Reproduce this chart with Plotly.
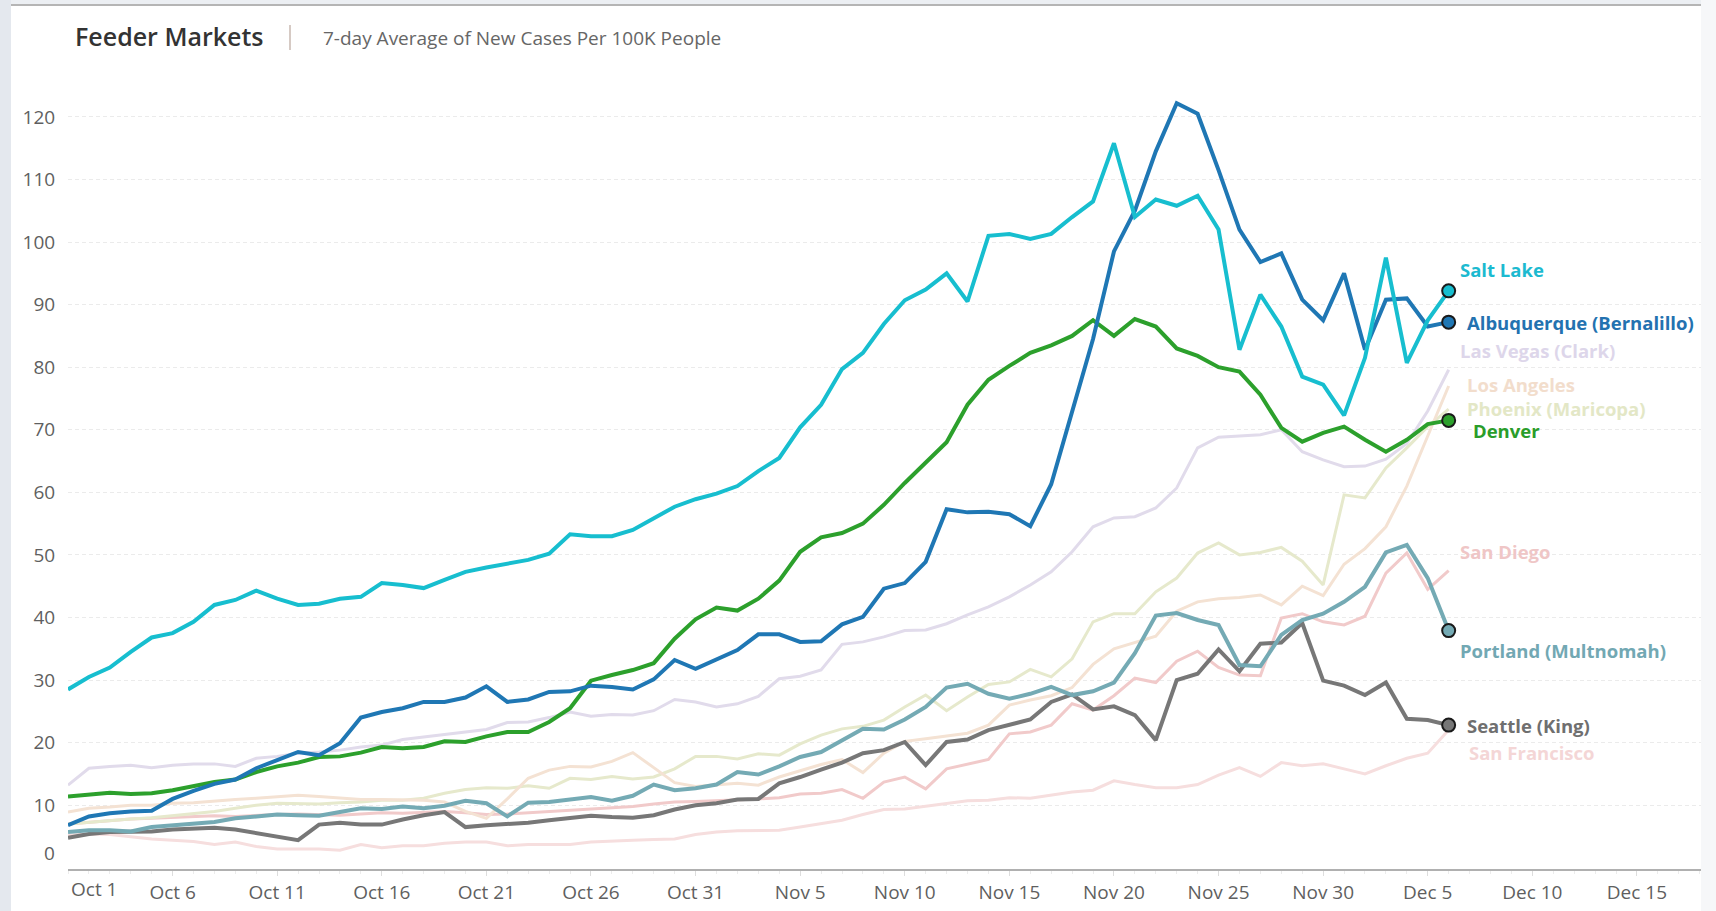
import pandas as pd
import plotly.graph_objects as go

# ---------------- data ----------------
dates = pd.date_range("2020-10-01", "2020-12-06", freq="D")

salt_lake = [28.5, 30.5, 32.0, 34.5, 36.8, 37.5, 39.3, 42.0, 42.8, 44.3,
             43.0, 42.0, 42.2, 43.0, 43.3, 45.5, 45.2, 44.7, 46.0, 47.3,
             48.0, 48.6, 49.2, 50.2, 53.3, 53.0, 53.0, 54.0, 55.8, 57.7,
             58.9, 59.8, 61.0, 63.4, 65.5, 70.4, 74.0, 79.7, 82.3, 86.9,
             90.7, 92.4, 95.0, 90.5, 101.0, 101.3, 100.5, 101.3, 104.0, 106.5,
             115.8, 104.0, 106.8, 105.8, 107.4, 102.0, 82.8, 91.6, 86.5, 78.5,
             77.2, 72.3, 81.5, 97.5, 80.7, 87.5, 92.2]

albuquerque = [6.8, 8.2, 8.7, 9.0, 9.1, 11.0, 12.3, 13.4, 14.1, 15.9,
               17.2, 18.5, 18.0, 19.9, 24.0, 24.9, 25.5, 26.5, 26.5, 27.2,
               29.0, 26.5, 26.9, 28.1, 28.2, 29.1, 28.9, 28.5, 30.1, 33.2,
               31.8, 33.3, 34.8, 37.3, 37.3, 36.1, 36.2, 38.9, 40.1, 44.6,
               45.5, 48.9, 57.3, 56.8, 56.9, 56.5, 54.6, 61.3, 73.0, 84.5,
               98.5, 105.0, 114.5, 122.2, 120.5, 111.5, 102.0, 96.8, 98.2, 90.8,
               87.5, 95.0, 82.8, 90.8, 91.0, 86.5, 87.2]

denver = [11.4, 11.7, 12.0, 11.8, 11.9, 12.4, 13.1, 13.7, 14.1, 15.3,
          16.2, 16.8, 17.7, 17.8, 18.4, 19.3, 19.1, 19.3, 20.2, 20.1,
          21.0, 21.7, 21.7, 23.3, 25.5, 29.9, 30.8, 31.6, 32.7, 36.6,
          39.7, 41.6, 41.1, 43.0, 45.9, 50.5, 52.8, 53.5, 55.0, 58.0,
          61.5, 64.8, 68.0, 74.0, 78.0, 80.2, 82.3, 83.5, 85.0, 87.5,
          85.0, 87.7, 86.5, 83.0, 81.8, 80.0, 79.3, 75.6, 70.3, 68.1,
          69.5, 70.5, 68.4, 66.5, 68.4, 70.9, 71.5]

las_vegas = [13.2, 15.9, 16.2, 16.4, 16.0, 16.4, 16.6, 16.6, 16.2, 17.5,
             17.8, 18.3, 18.5, 18.8, 19.3, 19.6, 20.5, 20.9, 21.3, 21.7,
             22.1, 23.2, 23.3, 24.0, 24.9, 24.2, 24.5, 24.4, 25.1, 26.9,
             26.5, 25.7, 26.2, 27.4, 30.2, 30.6, 31.6, 35.7, 36.1, 36.9,
             37.9, 38.0, 39.0, 40.4, 41.7, 43.3, 45.2, 47.3, 50.5, 54.5,
             55.9, 56.1, 57.5, 60.7, 67.1, 68.8, 69.0, 69.2, 70.0, 66.5,
             65.2, 64.1, 64.2, 65.3, 67.8, 73.0, 79.6]

los_angeles = [8.9, 9.5, 9.7, 10.0, 10.0, 10.3, 10.4, 10.7, 10.9, 11.1,
               11.3, 11.6, 11.4, 11.1, 10.9, 10.9, 10.9, 10.8, 10.5, 9.0,
               7.9, 11.0, 14.3, 15.6, 16.2, 16.1, 17.0, 18.4, 16.0, 13.6,
               13.0, 13.2, 13.5, 13.2, 14.5, 15.5, 16.5, 17.3, 15.2, 18.3,
               20.2, 20.6, 21.0, 21.5, 22.8, 26.0, 26.8, 27.5, 28.8, 32.5,
               35.0, 36.0, 37.0, 41.0, 42.5, 43.0, 43.2, 43.6, 42.0, 45.0,
               43.5, 48.5, 51.0, 54.5, 61.0, 69.0, 77.0]

phoenix = [7.0, 7.3, 7.5, 7.8, 8.0, 8.3, 8.6, 9.0, 9.5, 10.0,
           10.3, 10.3, 10.2, 10.4, 10.5, 10.8, 10.8, 11.1, 11.9, 12.5,
           12.8, 12.7, 13.1, 12.7, 14.3, 14.1, 14.6, 14.2, 14.5, 15.8,
           17.8, 17.8, 17.4, 18.2, 18.0, 19.8, 21.2, 22.2, 22.6, 23.6,
           25.7, 27.6, 25.1, 27.3, 29.3, 29.7, 31.7, 30.5, 33.4, 39.3,
           40.6, 40.6, 44.1, 46.3, 50.3, 51.9, 50.0, 50.4, 51.2, 49.0,
           45.2, 59.6, 59.1, 63.9, 67.1, 70.5, 73.3]

san_diego = [7.0, 7.3, 7.6, 7.8, 7.9, 8.0, 8.1, 8.3, 8.2, 8.4,
             8.5, 8.6, 8.5, 8.4, 8.6, 8.8, 8.7, 8.9, 9.0, 8.8,
             8.5, 8.6, 8.8, 9.0, 9.2, 9.4, 9.6, 9.8, 10.2, 10.5,
             10.6, 10.7, 10.9, 11.0, 11.2, 11.8, 11.9, 12.5, 11.1, 13.7,
             14.5, 12.6, 15.8, 16.5, 17.3, 21.4, 21.7, 22.8, 26.2, 25.2,
             27.5, 30.3, 29.6, 33.0, 34.6, 32.0, 30.8, 30.7, 39.9, 40.6,
             39.3, 38.8, 40.2, 47.1, 50.3, 44.5, 47.5]

san_francisco = [5.2, 5.4, 5.3, 4.9, 4.6, 4.4, 4.2, 3.7, 4.1, 3.4,
                 3.0, 3.0, 3.0, 2.8, 3.7, 3.2, 3.5, 3.5, 3.9, 4.1,
                 4.1, 3.5, 3.7, 3.7, 3.7, 4.1, 4.3, 4.4, 4.5, 4.6,
                 5.3, 5.7, 5.9, 6.0, 6.0, 6.5, 7.1, 7.6, 8.5, 9.3,
                 9.4, 9.8, 10.3, 10.7, 10.8, 11.2, 11.1, 11.6, 12.1, 12.4,
                 13.9, 13.3, 12.8, 12.8, 13.3, 14.8, 16.0, 14.6, 16.8, 16.3,
                 16.6, 15.8, 15.0, 16.3, 17.5, 18.3, 22.0]

portland = [5.7, 6.0, 6.0, 5.8, 6.5, 6.8, 7.1, 7.3, 7.9, 8.2,
            8.5, 8.4, 8.3, 8.9, 9.5, 9.4, 9.8, 9.5, 9.9, 10.7,
            10.3, 8.2, 10.4, 10.5, 10.9, 11.3, 10.7, 11.5, 13.3, 12.4,
            12.7, 13.3, 15.3, 14.9, 16.2, 17.7, 18.5, 20.4, 22.2, 22.1,
            23.7, 25.7, 28.8, 29.4, 27.8, 27.0, 27.8, 28.9, 27.6, 28.2,
            29.6, 34.3, 40.3, 40.7, 39.6, 38.8, 32.4, 32.2, 37.2, 39.6,
            40.6, 42.5, 44.9, 50.4, 51.6, 46.3, 37.9]

seattle = [4.8, 5.4, 5.7, 5.7, 5.8, 6.1, 6.3, 6.4, 6.1, 5.5,
           4.9, 4.4, 6.9, 7.2, 6.9, 6.9, 7.7, 8.4, 8.9, 6.5,
           6.8, 7.0, 7.2, 7.6, 7.9, 8.3, 8.1, 8.0, 8.4, 9.3,
           10.0, 10.3, 10.9, 11.0, 13.5, 14.5, 15.7, 16.8, 18.3, 18.8,
           20.1, 16.4, 20.1, 20.5, 22.0, 22.9, 23.7, 26.5, 27.7, 25.3,
           25.8, 24.4, 20.4, 30.0, 31.0, 34.9, 31.4, 35.8, 36.0, 39.1,
           29.9, 29.1, 27.6, 29.6, 23.8, 23.6, 22.8]

y_ticks = [10, 20, 30, 40, 50, 60, 70, 80, 90, 100, 110, 120]
title_text = "Feeder Markets"
subtitle_text = "7-day Average of New Cases Per 100K People"

# ---------------- styles ----------------
FONT = "Open Sans"
TICK_SIZE = 19
W, H = 1716, 911
L, R, T, B = 68, 15, 70, 42

# name, values, line colour, label colour, highlighted, (xshift, yshift)
series = [
    ("San Francisco", san_francisco, "#f6dede", "#f4d6d6", False, (18, -22)),
    ("San Diego", san_diego, "#f1caca", "#efc6c6", False, (9, 19)),
    ("Phoenix (Maricopa)", phoenix, "#e6e9cc", "#e3e7c6", False, (16, 1)),
    ("Los Angeles", los_angeles, "#f4e2d3", "#f2ddcc", False, (16, 1)),
    ("Las Vegas (Clark)", las_vegas, "#e1dbeb", "#ddd6ea", False, (9, 19)),
    ("Seattle (King)", seattle, "#777777", "#6f6f6f", True, (16, 0)),
    ("Portland (Multnomah)", portland, "#74aab4", "#72a8b3", True, (9, -20)),
    ("Denver", denver, "#2ca02c", "#2a9d2a", True, (22, -10)),
    ("Albuquerque (Bernalillo)", albuquerque, "#1f77b4", "#2372b0", True, (16, 0)),
    ("Salt Lake", salt_lake, "#17becf", "#1cbad0", True, (9, 21)),
]

fig = go.Figure()
annotations = []
for name, vals, col, lcol, hi, (xs, ys) in series:
    fig.add_trace(go.Scatter(
        x=dates, y=vals, mode="lines", name=name,
        line=dict(color=col, width=4 if hi else 3),
        hoverinfo="skip", showlegend=False,
    ))
    if hi:
        fig.add_trace(go.Scatter(
            x=[dates[-1]], y=[vals[-1]], mode="markers",
            marker=dict(size=13, color=col, line=dict(color="#1a1a1a", width=2)),
            hoverinfo="skip", showlegend=False,
        ))
    annotations.append(dict(
        x=dates[-1], y=vals[-1], xref="x", yref="y", text=f"<b>{name}</b>",
        showarrow=False, xanchor="left", yanchor="middle", xshift=xs, yshift=ys,
        font=dict(family=FONT, size=18.5, color=lcol),
    ))

pw, ph = W - L - R, H - T - B
def px(x):
    return (x - L) / pw
def py(y):
    return (H - B - y) / ph

# title pieces
annotations.append(dict(x=px(73), y=py(36), xref="paper", yref="paper", text=title_text,
                        showarrow=False, xanchor="left", yanchor="middle",
                        font=dict(family=FONT, size=25, color="#333333", weight=600)))
annotations.append(dict(x=px(321), y=py(38), xref="paper", yref="paper", text=subtitle_text,
                        showarrow=False, xanchor="left", yanchor="middle",
                        font=dict(family=FONT, size=19, color="#666666")))
# first x label (left-aligned like the original) and zero label
annotations.append(dict(x=dates[0], y=0, xref="x", yref="paper", text="Oct 1",
                        showarrow=False, xanchor="left", yanchor="top", xshift=1, yshift=-5,
                        font=dict(family=FONT, size=TICK_SIZE, color="#5f5f5f")))
annotations.append(dict(x=0, y=0, xref="paper", yref="y", text="0",
                        showarrow=False, xanchor="right", yanchor="middle", xshift=-11, yshift=15,
                        font=dict(family=FONT, size=TICK_SIZE, color="#5f5f5f")))

shapes = [
    dict(type="rect", xref="paper", yref="paper", x0=px(0), x1=px(11), y0=py(H), y1=py(0),
         fillcolor="#e4e8ee", line=dict(width=0), layer="below"),
    dict(type="rect", xref="paper", yref="paper", x0=px(1701), x1=px(W), y0=py(H), y1=py(0),
         fillcolor="#f6f7f9", line=dict(width=0), layer="below"),
    dict(type="rect", xref="paper", yref="paper", x0=px(11), x1=px(1701), y0=py(4), y1=py(0),
         fillcolor="#eceff3", line=dict(width=0), layer="below"),
    dict(type="line", xref="paper", yref="paper", x0=px(11), x1=px(1701), y0=py(5), y1=py(5),
         line=dict(color="#b5b5b5", width=2), layer="below"),
    dict(type="line", xref="paper", yref="paper", x0=px(290), x1=px(290), y0=py(25), y1=py(50),
         line=dict(color="#c9b9b1", width=1.5), layer="below"),
]

tickvals = pd.date_range("2020-10-06", "2020-12-15", freq="5D")
fig.update_layout(
    width=W, height=H, autosize=False,
    margin=dict(l=L, r=R, t=T, b=B, pad=0, autoexpand=False),
    paper_bgcolor="white", plot_bgcolor="rgba(0,0,0,0)",
    font=dict(family=FONT, size=TICK_SIZE, color="#5f5f5f"),
    annotations=annotations, shapes=shapes,
    xaxis=dict(
        range=["2020-10-01", "2020-12-18 01:30"], tickvals=tickvals,
        tickformat="%b %-d", showgrid=False, zeroline=False, automargin=False,
        showline=True, linecolor="#b0b0b0", linewidth=2,
        ticks="outside", ticklen=5, tickcolor="#dddddd", tickwidth=1,
        ticklabelstandoff=0,
        minor=dict(ticks="outside", ticklen=3, dtick=86400000, tickcolor="#ececec"),
        tickfont=dict(family=FONT, size=TICK_SIZE, color="#5f5f5f"), fixedrange=True,
    ),
    yaxis=dict(
        range=[-0.2, 127.5], tickvals=y_ticks, showgrid=True, automargin=False,
        gridcolor="#ebebeb", griddash="4px,3px", gridwidth=1,
        zeroline=False, showline=False,
        ticks="outside", ticklen=8, tickcolor="rgba(0,0,0,0)",
        tickfont=dict(family=FONT, size=TICK_SIZE, color="#5f5f5f"), fixedrange=True,
    ),
)

fig.write_html("out.html", config={"displayModeBar": False},
               post_script="document.body.style.margin='0';")
